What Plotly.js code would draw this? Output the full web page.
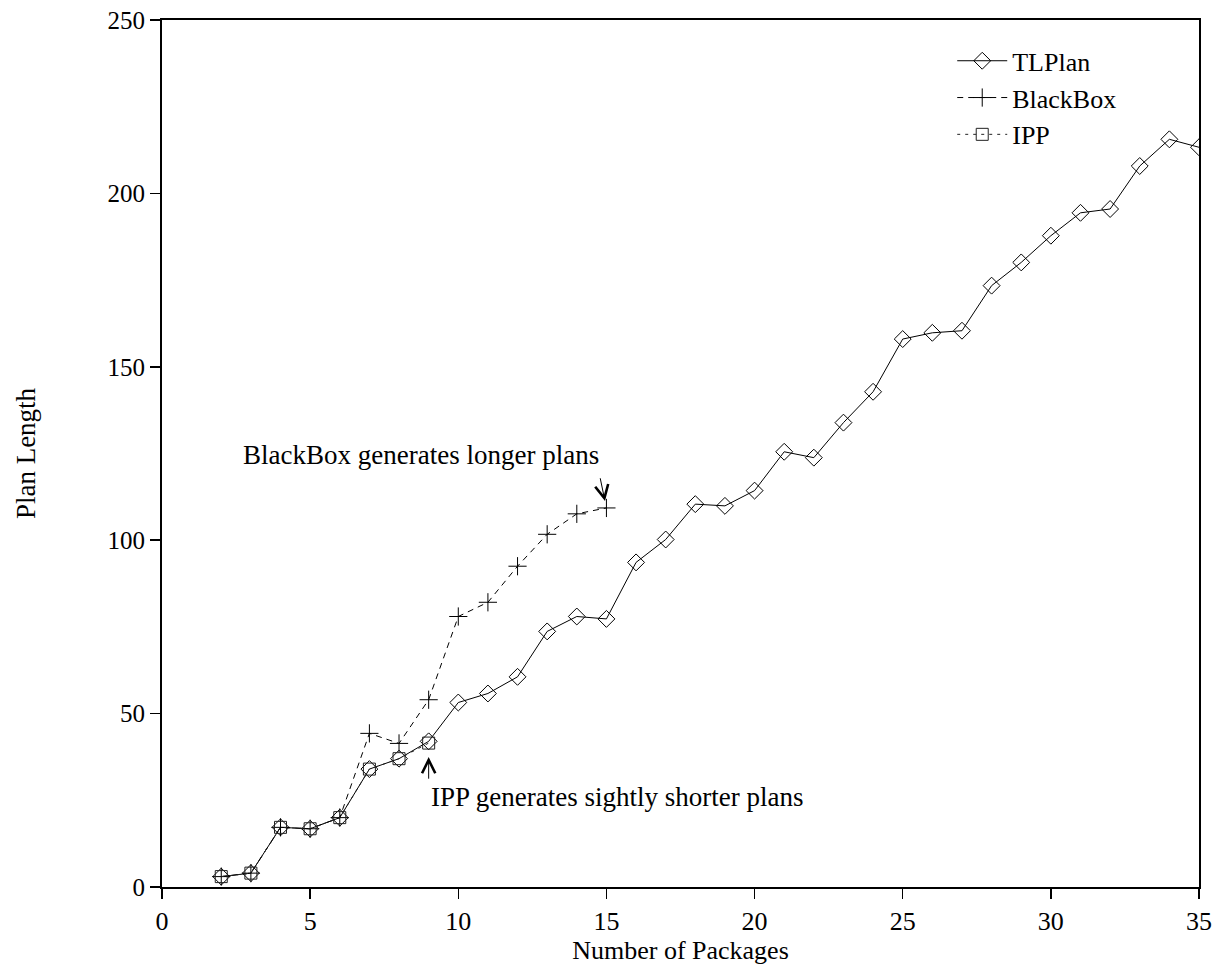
<!DOCTYPE html>
<html>
<head>
<meta charset="utf-8">
<script src="https://cdn.plot.ly/plotly-3.0.1.min.js"></script>
<style>html,body{margin:0;padding:0;background:#fff;}#chart{width:1217px;height:967px;}</style>
</head>
<body>
<div id="chart"></div>
<script>
// Data
var tlplanX = [2,3,4,5,6,7,8,9,10,11,12,13,14,15,16,17,18,19,20,21,22,23,24,25,26,27,28,29,30,31,32,33,34,35];
var tlplanY = [3,4,17.2,16.8,20,34,37,42,53.2,55.8,60.6,73.7,78,77.3,93.6,100.2,110.4,109.9,114.3,125.5,123.8,133.9,142.8,158,159.8,160.4,173.4,180.1,187.8,194.4,195.5,207.9,215.6,213.3];
var blackboxX = [2,3,4,5,6,7,8,9,10,11,12,13,14,15];
var blackboxY = [3,4,17.2,16.8,20,44.3,41.4,54,78,82.1,92.5,101.7,107.6,109.3];
var ippX = [2,3,4,5,6,7,8,9];
var ippY = [3,4,17.2,16.8,20,34,37,41.5];

var xTicks = [0,5,10,15,20,25,30,35];
var yTicks = [0,50,100,150,200,250];

var FONT = "Liberation Serif, Times New Roman, serif";

var traces = [
  {
    x: tlplanX, y: tlplanY, name: 'TLPlan', type: 'scatter', mode: 'lines+markers',
    line: {color: '#000', width: 1},
    marker: {symbol: 'diamond-open', size: 13, color: '#000', line: {color: '#000', width: 1}}
  },
  {
    x: blackboxX, y: blackboxY, name: 'BlackBox', type: 'scatter', mode: 'lines+markers',
    line: {color: '#000', width: 1, dash: '6px,5px'},
    marker: {symbol: 'cross-thin-open', size: 13, color: '#000', line: {color: '#000', width: 1}}
  },
  {
    x: ippX, y: ippY, name: 'IPP', type: 'scatter', mode: 'lines+markers',
    line: {color: '#222', width: 1, dash: '3px,5px'},
    marker: {symbol: 'square-open', size: 12, color: '#222', line: {color: '#222', width: 1}}
  }
];

var layout = {
  width: 1217, height: 967,
  paper_bgcolor: '#fff', plot_bgcolor: '#fff',
  margin: {l: 162, r: 18, t: 20, b: 80},
  font: {family: FONT, color: '#000', size: 26},
  showlegend: true,
  legend: {
    x: 0.925, xanchor: 'right', y: 0.98, yanchor: 'top',
    bgcolor: 'rgba(0,0,0,0)', borderwidth: 0,
    font: {family: FONT, size: 26, color: '#000'},
    itemwidth: 50, tracegroupgap: 0
  },
  xaxis: {
    range: [0, 35], tickmode: 'array', tickvals: xTicks, ticktext: xTicks.map(String),
    ticks: 'outside', ticklen: 10, tickwidth: 1.5, tickcolor: '#000',
    showline: true, linecolor: '#000', linewidth: 2, mirror: true,
    showgrid: false, zeroline: false,
    tickfont: {family: FONT, size: 26},
    title: {text: 'Number of Packages', font: {family: FONT, size: 26}, standoff: 4}
  },
  yaxis: {
    range: [0, 250], tickmode: 'array', tickvals: yTicks, ticktext: yTicks.map(String),
    ticks: 'outside', ticklen: 10, tickwidth: 1.5, tickcolor: '#000',
    showline: true, linecolor: '#000', linewidth: 2, mirror: true,
    showgrid: false, zeroline: false,
    tickfont: {family: FONT, size: 25},
    title: {text: 'Plan Length', font: {family: FONT, size: 27}, standoff: 64}
  },
  annotations: [
    {
      x: 2.66, y: 124.6, xref: 'x', yref: 'y', xanchor: 'left', yanchor: 'middle',
      text: 'BlackBox generates longer plans', showarrow: false,
      font: {family: FONT, size: 27, color: '#000'}
    },
    {
      x: blackboxX[blackboxX.length - 1], y: blackboxY[blackboxY.length - 1],
      xref: 'x', yref: 'y', axref: 'x', ayref: 'y', ax: 14.78, ay: 118.3,
      text: '', showarrow: true, arrowhead: 5, arrowsize: 2.6, arrowwidth: 1,
      arrowcolor: '#000', standoff: 7
    },
    {
      x: 9, y: 26, xref: 'x', yref: 'y', xanchor: 'left', yanchor: 'middle',
      text: 'IPP generates sightly shorter plans', showarrow: false,
      font: {family: FONT, size: 27, color: '#000'}
    },
    {
      x: ippX[ippX.length - 1], y: ippY[ippY.length - 1],
      xref: 'x', yref: 'y', axref: 'x', ayref: 'y', ax: 9, ay: 30.8,
      text: '', showarrow: true, arrowhead: 5, arrowsize: 2.6, arrowwidth: 1,
      arrowcolor: '#000', standoff: 14
    }
  ]
};

Plotly.newPlot('chart', traces, layout, {displayModeBar: false, staticPlot: true});
</script>
</body>
</html>
